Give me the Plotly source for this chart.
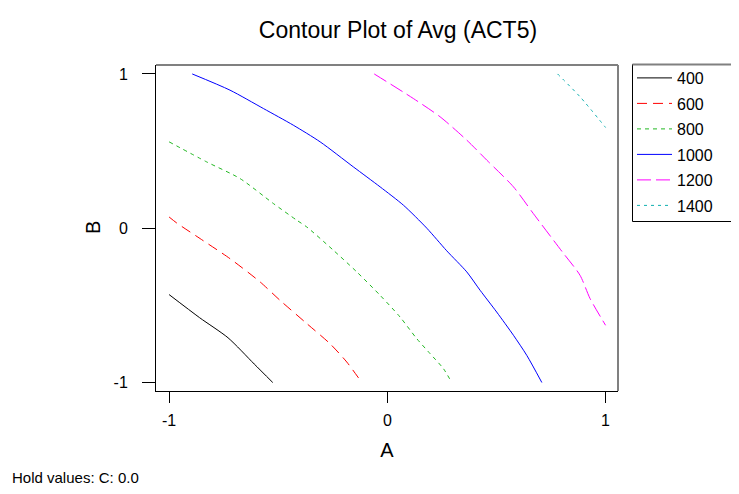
import plotly.graph_objects as go

# Contour levels and style
levels = ["400", "600", "800", "1000", "1200", "1400"]
colors = ["#000000", "#FF0000", "#22B822", "#0000FF", "#FF00FF", "#10B0B0"]
dashes = ["solid", "10px,6px", "4px,4px", "solid", "14px,5px", "3px,4px"]

# Contour line coordinates (A, B)
c400_A = [-1.0, -0.86, -0.73, -0.61, -0.525]
c400_B = [-0.43, -0.58, -0.71, -0.88, -1.0]

c600_A = [-1.0, -0.965, -0.858, -0.721, -0.583, -0.492, -0.369, -0.263, -0.186, -0.117]
c600_B = [0.073, 0.034, -0.067, -0.197, -0.348, -0.467, -0.618, -0.748, -0.867, -1.0]

c800_A = [-1.0, -0.828, -0.675, -0.522, -0.415, -0.369, -0.247, -0.140, -0.033, 0.058, 0.135, 0.196, 0.257, 0.295]
c800_B = [0.56, 0.430, 0.322, 0.160, 0.052, 0.008, -0.143, -0.283, -0.435, -0.575, -0.716, -0.813, -0.910, -1.0]

c1000_A = [-0.894, -0.721, -0.568, -0.431, -0.308, -0.156, -0.033, 0.074, 0.181, 0.272, 0.364, 0.425, 0.501, 0.578, 0.639, 0.708]
c1000_B = [1.0, 0.895, 0.776, 0.668, 0.560, 0.398, 0.268, 0.149, 0.0, -0.146, -0.283, -0.402, -0.543, -0.694, -0.824, -1.0]

c1200_A = [-0.06, 0.119, 0.242, 0.364, 0.456, 0.578, 0.669, 0.80, 0.883, 0.929, 1.0]
c1200_B = [1.0, 0.841, 0.722, 0.571, 0.441, 0.268, 0.095, -0.15, -0.305, -0.456, -0.629]

c1400_A = [0.78, 0.883, 1.0]
c1400_B = [1.0, 0.852, 0.653]

curves_A = [c400_A, c600_A, c800_A, c1000_A, c1200_A, c1400_A]
curves_B = [c400_B, c600_B, c800_B, c1000_B, c1200_B, c1400_B]

tick_vals = [-1, 0, 1]
tick_text = ["-1", "0", "1"]

FONT = "Liberation Sans, Arial, sans-serif"

# figure is drawn inside the page body (8px default margin)
W, H = 731, 486
L, R, T, B = 148, 121, 57, 103
PW, PH = W - L - R, H - T - B


def px_x(sx):
    # screen x -> paper x
    return (sx - 8 - L) / PW


def px_y(sy):
    # screen y -> paper y
    return (T + PH - (sy - 8)) / PH


fig = go.Figure()
for i, lev in enumerate(levels):
    fig.add_trace(go.Scatter(
        x=curves_A[i], y=curves_B[i], mode="lines", name=lev,
        legendgroup=lev,
        line=dict(color=colors[i], width=1, dash=dashes[i], shape="spline", smoothing=0.7),
    ))

fig.update_layout(
    width=W, height=H,
    margin=dict(l=L, r=R, t=T, b=B),
    paper_bgcolor="white", plot_bgcolor="white",
    font=dict(family=FONT, color="black"),
    title=dict(text="Contour Plot of Avg (ACT5)", x=390/W, xanchor="center",
               xref="container", y=1-22/H, yanchor="middle", yref="container",
               font=dict(size=23, family=FONT, color="black")),
    showlegend=True,
    legend=dict(x=px_x(632), y=px_y(61), xanchor="left", yanchor="top",
                borderwidth=0, bgcolor="rgba(0,0,0,0)",
                font=dict(size=16, family=FONT, color="black"),
                tracegroupgap=1.7, itemwidth=35),
    xaxis=dict(range=[-1.06, 1.057], tickvals=tick_vals, ticktext=tick_text,
               showgrid=False, zeroline=False, showline=True, linecolor="black",
               linewidth=1, ticks="outside", ticklen=11, tickcolor="black",
               tickfont=dict(size=16), ticklabelstandoff=4,
               title=dict(text="A", font=dict(size=20), standoff=14)),
    yaxis=dict(range=[-1.055, 1.058], tickvals=tick_vals, ticktext=tick_text,
               showgrid=False, zeroline=False, showline=True, linecolor="black",
               linewidth=1, ticks="outside", ticklen=13, tickcolor="black",
               tickfont=dict(size=16), ticklabelstandoff=11),
    shapes=[
        dict(type="line", xref="paper", yref="paper", x0=0, x1=1, y0=1, y1=1,
             line=dict(color="#808080", width=2)),
        dict(type="line", xref="paper", yref="paper", x0=1, x1=1, y0=0, y1=1,
             line=dict(color="#808080", width=2)),
        # legend frame
        dict(type="rect", xref="paper", yref="paper",
             x0=px_x(632.5), x1=px_x(745), y0=px_y(221.5), y1=px_y(64.5),
             line=dict(color="black", width=1), fillcolor="rgba(0,0,0,0)", layer="below"),
        dict(type="line", xref="paper", yref="paper",
             x0=px_x(632.5), x1=px_x(745), y0=px_y(64.5), y1=px_y(64.5),
             line=dict(color="#808080", width=2)),
    ],
    annotations=[
        dict(text="B", xref="paper", yref="paper", textangle=-90,
             x=px_x(93), y=px_y(228), xanchor="center", yanchor="middle",
             showarrow=False, font=dict(size=20, family=FONT, color="black")),
        dict(text="Hold values: C: 0.0", xref="paper", yref="paper",
             x=px_x(10), y=px_y(477), xanchor="left", yanchor="middle",
             showarrow=False, font=dict(size=15, family=FONT, color="black")),
    ],
)

fig.write_html("out.html")
